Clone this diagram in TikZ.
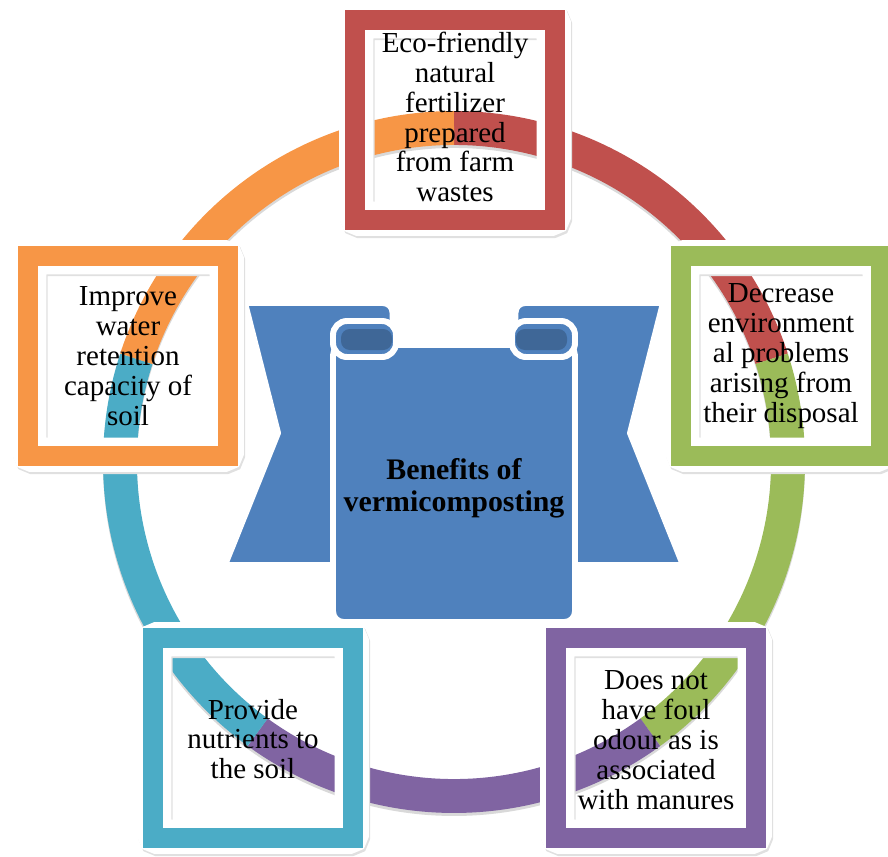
\documentclass[tikz,border=0pt]{standalone}
\usepackage{fontspec}
\setmainfont{Liberation Serif}
\definecolor{ringred}{HTML}{C0504D}
\definecolor{ringorange}{HTML}{F79646}
\definecolor{ringgreen}{HTML}{9BBB59}
\definecolor{ringpurple}{HTML}{8064A2}
\definecolor{ringaqua}{HTML}{4BACC6}
\definecolor{scrollblue}{HTML}{4F81BD}
\definecolor{rolldark}{HTML}{3F6797}
\begin{document}
\begin{tikzpicture}[x=0.02cm,y=-0.02cm,
                    edge/.style = {draw=white,line width=3.4pt,line join=round},
                    label/.style = {align=center,font=\fontsize{16.5}{17}\selectfont}]
                    \useasboundingbox (0,0) rectangle (888,856);

                    \coordinate (c) at (454,462);
                    \draw[black!15,line width=19.3pt] (454,465) circle (334);
                    \foreach \a/\b/\col in {-90/-18/ringred,-18/54/ringgreen,54/126/ringpurple,126/198/ringaqua,198/270/ringorange}
                        \draw[\col,line width=19.3pt] (c) ++(\a:334) arc (\a:\b:334);

                    \filldraw[fill=scrollblue,edge] (245,303) -- (383,303) arc (-90:0:9.5) -- (392.5,565) -- (225,565) -- (278,433) -- cycle;
                    \filldraw[fill=scrollblue,edge] (663,303) -- (525,303) arc (-90:-180:9.5) -- (515.5,565) -- (683,565) -- (630,433) -- cycle;

                    \filldraw[fill=scrollblue,edge,rounded corners=6pt] (333,345) rectangle (575,622);
                    \filldraw[fill=scrollblue,edge,rounded corners=8pt] (333,321) rectangle (396,357);
                    \filldraw[fill=scrollblue,edge,rounded corners=8pt] (512,321) rectangle (575,357);
                    \fill[rolldark,rounded corners=5pt] (341,329) rectangle (392,350);
                    \fill[rolldark,rounded corners=5pt] (516,329) rectangle (567,350);

                    \node[font=\fontsize{17}{18}\selectfont\bfseries,align=center] (title) at (454,488) {Benefits of\\vermicomposting};

                    \foreach \x/\y/\col in {455/120/ringred,128/356/ringorange,781/356/ringgreen,656/738/ringpurple,253/738/ringaqua} {
                        \draw[black!12,line width=19.6pt,rounded corners=2pt] ({\x-97.5},{\y-97}) rectangle ({\x+100},{\y+101});
                        \draw[white,line width=19.6pt,rounded corners=2pt] ({\x-98.75},{\y-98.75}) rectangle ({\x+98.75},{\y+98.75});
                        \draw[\col,line width=11.34pt] ({\x-100},{\y-100}) rectangle ({\x+100},{\y+100});
                    }

                    \node[label] (eco) at (455,117) {Eco-friendly\\natural\\fertilizer\\prepared\\from farm\\wastes};
                    \node[label] (water) at (128,356) {Improve\\water\\retention\\capacity of\\soil};
                    \node[label] (decrease) at (781,356) {Decrease\\environment\\al problems\\arising from\\their disposal};
                    \node[label] (odour) at (656,740) {Does not\\have foul\\odour as is\\associated\\with manures};
                    \node[label] (nutrients) at (253,739) {Provide\\nutrients to\\the soil};
                \end{tikzpicture}
\end{document}
